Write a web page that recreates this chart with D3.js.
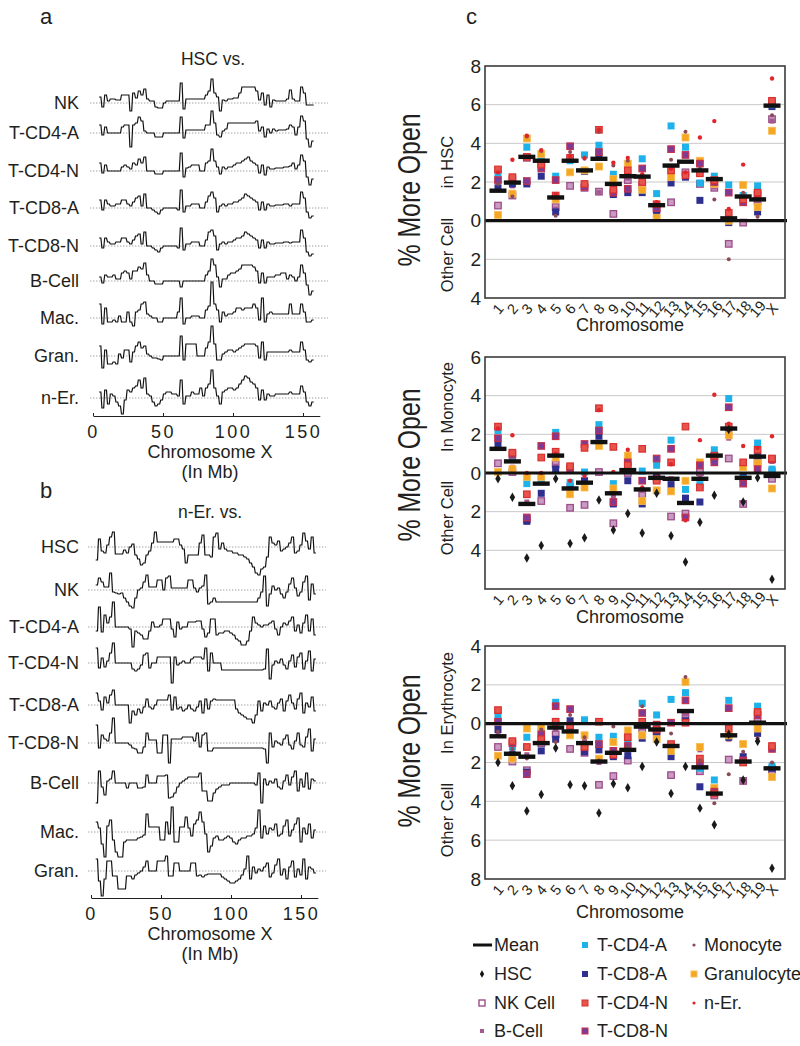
<!DOCTYPE html>
<html><head><meta charset="utf-8">
<script src="https://cdn.jsdelivr.net/npm/d3@7"></script>
<style>
body{margin:0;background:#fff}
svg{display:block}
text{font-family:"Liberation Sans",Arial,Helvetica,sans-serif;fill:#231f20}
</style>
</head><body>
<svg id="fig" width="800" height="1046"></svg>
<script>
// ---------------- DATA ----------------
// Panel a: HSC vs. other cells, step traces along chromosome X (relative openness, arbitrary units)
const rowsA = ["NK","T-CD4-A","T-CD4-N","T-CD8-A","T-CD8-N","B-Cell","Mac.","Gran.","n-Er."];
const aNK   = [6,-4,8,2,4,4,3,3,8,8,8,-8,10,5,12,8,14,4,2,2,-4,-5,-5,0,2,2,2,2,2,20,-6,4,4,4,4,4,4,4,8,12,24,10,6,-8,3,2,4,4,5,5,10,16,16,16,16,16,12,3,10,-2,8,-4,3,2,2,2,2,4,13,4,2,2,16,10,-2,-2,-2];
const aCD4A = [8,-2,6,0,0,0,0,0,6,8,8,-14,8,10,16,12,2,0,0,0,-4,-4,-4,0,0,0,0,0,0,16,-5,3,3,3,3,3,3,3,8,8,22,10,-2,-4,2,4,10,10,10,10,10,10,10,10,10,10,12,2,6,-4,4,0,4,2,3,3,3,4,8,6,-2,6,17,12,-6,-14,-8];
const aCD4N = [8,-2,6,0,0,0,0,0,4,6,4,2,8,6,12,8,14,0,0,0,-3,-3,-3,0,0,0,0,0,0,18,-6,3,4,6,6,6,0,0,8,10,22,10,4,-3,4,2,4,4,6,8,8,10,12,14,10,8,6,-2,6,-4,4,2,2,3,3,3,4,4,5,8,2,6,16,10,-6,-14,-8];
const aCD8A = [8,-2,8,4,2,2,4,4,8,8,4,2,6,10,12,2,14,0,0,-2,-4,-6,-2,0,0,0,0,0,-2,18,-4,2,2,4,4,4,0,0,6,12,16,10,-4,2,4,2,4,4,6,6,8,10,14,12,10,8,6,-2,6,-2,4,2,2,3,3,3,4,4,2,4,4,4,16,10,-4,-10,-8];
const aCD8N = [8,-2,8,4,2,2,4,4,8,8,4,2,6,10,12,2,14,0,0,-2,-4,-6,-2,0,0,0,0,0,-2,18,-4,2,2,4,4,4,0,0,6,14,16,10,-4,2,4,2,4,4,6,8,8,10,14,12,10,8,6,-2,6,-2,4,2,2,3,3,3,4,4,3,4,4,4,16,8,-6,-10,-8];
const aBCell= [4,-2,6,4,4,6,2,2,8,10,8,2,10,10,14,12,18,6,0,0,-3,-3,-3,0,0,0,0,0,0,-6,0,0,0,0,0,0,0,0,6,10,22,16,4,-6,2,2,6,8,8,10,12,16,16,16,16,14,10,-2,8,-2,4,4,4,6,6,8,8,2,6,4,0,4,16,8,-4,-14,-10];
const aMac  = [14,-6,10,-4,-4,-2,-4,2,-4,-4,6,-4,-8,6,8,14,16,4,2,0,0,-4,-4,0,0,0,0,0,6,20,-6,0,0,2,2,2,0,0,8,12,36,14,8,-4,6,2,4,4,6,10,10,8,10,10,10,14,10,-2,20,-4,4,6,4,4,4,4,4,4,14,4,4,4,14,6,-4,-4,-2];
const aGran = [10,-12,6,-8,-8,-6,-8,2,-2,6,6,-6,4,10,14,8,10,2,0,-2,-2,-3,-4,0,0,0,0,0,0,20,-4,12,12,12,12,0,0,0,8,14,30,12,-4,-4,2,4,6,6,4,6,8,10,12,12,12,12,10,-2,14,-4,4,4,4,4,4,4,4,4,6,4,4,4,14,6,-4,-6,-4];
const aNEr  = [6,-10,8,-6,4,2,-4,-8,-16,-2,8,6,10,12,18,10,20,4,2,-4,-8,-6,-2,4,6,6,4,4,2,18,-6,2,2,6,4,4,10,2,10,14,28,10,2,-6,6,8,10,10,8,10,14,18,22,20,16,14,10,-2,8,-2,4,2,2,4,4,4,4,4,6,4,4,4,12,6,-4,-8,-4];

// Panel b: n-Er. vs. other cells
const rowsB = ["HSC","NK","T-CD4-A","T-CD4-N","T-CD8-A","T-CD8-N","B-Cell","Mac.","Gran."];
const bHSC  = [-13,8,-4,-6,2,10,15,-7,-7,-7,-3,-6,0,3,-8,-12,-18,-16,-8,-4,4,15,5,5,5,5,5,5,8,8,2,-2,-16,-8,-8,-8,-8,4,12,-8,-8,-10,10,14,-2,4,-2,-4,-4,-6,-6,-8,-8,-10,-12,-16,-20,-26,-28,-22,-20,-10,10,4,2,6,-4,-2,0,4,10,-6,-4,2,14,6,-2,10,-6];
const bNK   = [5,12,8,3,3,17,-2,-3,-4,-3,-8,-12,-16,-18,-8,0,2,8,15,3,3,3,10,10,0,12,14,2,2,2,2,2,2,10,10,2,-2,2,4,15,-14,-12,-8,-12,-12,-12,-12,-12,-12,-12,-12,-12,-12,-12,-12,-12,-12,-12,-8,-2,14,-16,-4,4,0,2,-4,-8,-2,6,12,2,-6,-2,8,14,-10,6,-4];
const bCD4A = [-4,20,-5,12,4,10,25,0,0,0,0,0,-2,-20,-4,-6,-8,-12,-12,-4,5,0,0,2,8,8,8,-2,-10,5,-2,0,0,5,5,5,6,6,-2,-10,-6,8,8,-8,-6,-6,-4,-4,-6,-8,-12,-14,-18,-18,-14,-4,10,4,2,0,2,2,4,6,-2,-8,0,4,2,6,10,-4,2,-6,4,12,-4,8,-8];
const bCD4N = [15,-5,5,-4,2,10,20,0,0,0,0,0,0,-6,-8,-6,-2,8,10,-5,0,0,6,6,6,6,6,-20,6,-2,0,2,0,0,4,6,6,6,4,15,-8,10,0,0,0,-7,-7,-7,-7,-7,-7,-7,-7,-7,-7,-7,-7,-7,-7,-7,-6,14,-16,-2,2,0,4,-2,-6,2,8,-4,6,10,-6,2,12,-8,4];
const bCD8A = [12,4,-5,8,2,10,15,0,0,0,0,0,-18,-6,-10,-4,-8,-2,6,-2,-4,0,5,5,5,5,10,-5,8,-4,-2,-6,-4,0,-4,-6,-2,4,-8,6,-4,4,6,5,5,5,5,5,5,5,-4,-8,-10,-12,-14,-14,-18,-10,4,-6,2,0,4,-2,-4,2,6,-6,4,10,2,-4,6,12,-8,2,-2,8,-6];
const bCD8N = [18,-5,8,4,2,10,25,0,0,0,0,0,-2,-5,-6,-10,-10,-4,10,3,3,3,-10,-10,8,8,-20,4,4,4,4,6,6,6,6,2,10,-4,8,10,-8,-8,-5,-5,-5,-5,-5,-5,-5,-5,-5,-5,-5,-5,-5,-5,-5,-5,-5,-5,-6,-20,10,-4,2,0,-2,4,8,-2,-6,2,10,-2,-4,6,14,-8,4];
const bBCell= [-20,12,-4,-12,2,4,12,0,0,0,0,-5,0,0,0,-5,-5,-4,8,0,0,0,7,7,7,8,-15,-14,-10,-4,0,2,4,6,6,6,6,10,-8,-8,-18,-18,-10,-6,-4,-2,-2,-2,0,0,0,0,0,0,0,0,0,-2,10,-20,4,-2,2,0,4,-4,-6,2,8,-2,6,12,-8,4,-4,10,-6,4,2];
const bMac  = [10,4,-12,-25,6,12,-8,-20,-25,-25,-10,-8,-8,-8,-8,-6,-5,-3,18,5,5,5,5,-8,-8,10,-2,25,-10,-10,5,5,15,4,-4,8,12,20,10,-2,-20,-14,-6,-4,-8,-8,-6,-4,-6,-10,-12,-8,-6,-6,-4,-4,-2,4,22,-6,6,-2,4,2,8,-4,-2,6,12,-4,2,8,14,-10,4,-2,8,-6,2];
const bGran = [12,-10,-25,-8,10,10,-5,-5,-18,-18,-18,-5,-5,-8,-4,-2,0,4,10,0,0,0,10,10,10,15,-5,-5,8,8,0,0,0,0,8,8,-5,-4,-6,-4,-3,-3,-3,-3,-3,-6,-8,-10,-12,-12,-10,-8,-4,2,15,-8,4,-2,2,0,4,8,-6,-2,6,12,-4,2,-8,4,10,-6,2,-4,12,-8,4,2,-2];

const xTicksAB = [0,50,100,150];

// Panel c: % more open per chromosome
const chroms = ["1","2","3","4","5","6","7","8","9","10","11","12","13","14","15","16","17","18","19","X"];

// c-top: HSC vs.
const hscNK    = [0.78,1.3,3.25,3.0,0.7,1.8,1.7,1.5,0.35,2.1,1.8,0.6,0.95,2.5,1.9,1.7,-1.2,-0.1,1.0,5.25];
const hscBCell = [1.65,1.8,3.3,2.8,0.6,3.2,1.8,1.45,1.5,2.2,1.9,0.55,2.5,2.4,2.5,1.75,0.2,1.0,0.9,5.15];
const hscCD4A  = [2.45,2.05,3.8,3.2,2.3,3.1,3.4,3.9,2.4,2.45,3.2,1.4,4.9,3.8,1.95,2.3,1.85,1.3,1.8,6.0];
const hscCD8A  = [1.7,1.9,1.9,2.3,0.45,3.2,2.55,3.3,1.35,1.45,1.45,0.35,1.95,2.25,1.05,2.1,-0.1,1.2,0.45,5.9];
const hscCD4N  = [2.65,2.25,3.3,2.9,1.3,3.25,1.9,4.7,1.6,2.6,2.0,0.85,2.6,2.35,2.45,2.1,0.4,1.1,1.45,6.2];
const hscCD8N  = [2.1,2.15,2.05,2.7,2.1,3.85,1.75,3.55,1.45,1.65,2.7,0.65,3.7,3.4,2.95,2.0,1.45,0.95,1.35,6.1];
const hscMono  = [1.9,1.25,4.35,3.6,0.25,3.55,3.2,4.6,2.85,3.1,2.3,0.9,3.15,4.6,2.7,1.1,-2.0,1.45,0.2,5.45];
const hscGran  = [0.3,1.4,4.25,3.45,1.1,2.5,2.6,2.8,2.15,2.95,1.6,0.15,2.25,4.3,3.1,1.9,0.0,1.85,0.7,4.65];
const hscNEr   = [2.5,3.15,4.4,3.65,1.35,3.3,3.25,4.7,3.0,3.25,2.4,0.95,2.7,2.5,4.3,5.15,0.6,2.9,1.2,7.35];
const hscMean  = [1.55,1.97,3.3,3.1,1.2,3.1,2.6,3.2,1.9,2.3,2.28,0.8,2.85,3.05,2.6,2.15,0.12,1.25,1.1,5.95];

// c-middle: Monocyte vs.
const monHSC   = [-0.3,-1.25,-4.4,-3.75,-0.3,-3.65,-3.35,-1.4,-2.95,-2.1,-3.1,-1.05,-3.25,-4.6,-2.55,-1.15,2.25,-1.5,-0.25,-5.5];
const monNK    = [0.5,0.05,-2.4,-1.45,0.45,-1.8,-1.65,0.05,-2.6,0.0,-1.1,-0.3,-2.25,-2.1,0.05,0.85,0.75,-1.6,0.6,-0.3];
const monBCell = [1.3,0.3,-1.5,-0.5,0.35,-0.9,-0.6,1.5,-1.2,0.1,-0.9,-0.15,-0.3,-1.5,-0.2,0.9,1.8,-0.1,0.7,0.6];
const monCD4A  = [2.2,0.85,-0.55,-0.35,2.1,-0.5,0.05,2.5,-0.55,0.3,0.1,0.4,1.7,-0.85,-0.6,1.2,3.85,-0.3,1.55,0.2];
const monCD8A  = [1.45,0.75,-2.5,-1.05,0.2,-0.7,-0.4,1.9,-1.6,-0.4,-1.6,-0.2,-0.6,-1.3,-1.5,0.7,2.2,-0.2,0.9,0.1];
const monCD4N  = [2.4,1.05,-1.1,0.8,1.1,0.35,1.3,3.35,1.35,0.4,1.25,-0.4,0.55,2.4,-0.75,0.9,2.4,0.55,1.2,0.75];
const monCD8N  = [1.8,0.95,-2.3,1.4,1.9,0.25,1.5,2.2,-1.5,0.55,-0.4,0.75,1.25,-2.3,0.4,0.55,3.4,-0.55,0.2,0.7];
const monGran  = [0.05,0.2,-0.2,-0.2,0.8,-1.1,-0.75,1.4,-0.8,0.9,-1.45,-0.9,-0.95,-0.4,0.55,0.75,1.95,0.3,0.5,-0.8];
const monNEr   = [2.3,1.95,0.0,0.0,1.0,-0.4,-0.15,3.25,0.05,1.2,-0.75,-0.2,0.45,-2.45,1.7,4.05,2.55,1.4,1.3,1.9];
const monMean  = [1.25,0.6,-1.6,-0.55,0.9,-0.8,-0.5,1.6,-1.05,0.15,-0.85,-0.25,-0.3,-1.55,-0.3,0.9,2.3,-0.25,0.85,-0.15];

// c-bottom: Erythrocyte vs.
const eryHSC   = [-2.0,-3.2,-4.5,-3.65,-1.25,-3.15,-3.2,-4.6,-3.1,-3.3,-2.2,-0.95,-3.6,-2.2,-4.35,-5.2,-0.55,-2.9,-0.9,-7.45];
const eryNK    = [-1.2,-1.95,-2.4,-1.0,-0.55,-1.3,-1.5,-3.15,-2.7,-1.9,-0.3,-0.4,-2.65,0.35,-2.45,-3.7,-1.85,-2.95,0.1,-2.4];
const eryBCell = [-0.5,-1.4,-1.6,-0.9,-0.3,-0.4,-0.8,-2.0,-1.5,-1.4,-0.2,-0.2,-1.2,0.5,-1.35,-3.6,-0.8,-3.0,0.0,-2.1];
const eryCD4A  = [0.45,-1.2,-0.7,-0.45,1.1,-0.3,0.2,-0.7,-0.65,-1.0,1.05,0.45,1.25,1.6,-2.3,-2.9,1.2,-2.0,0.9,-2.2];
const eryCD8A  = [-0.3,-1.6,-2.5,-1.4,-0.8,0.15,-1.45,-1.35,-1.7,-1.65,-0.75,-0.6,-1.7,0.15,-3.25,-3.55,-0.7,-1.7,-0.5,-2.3];
const eryCD4N  = [0.7,-0.9,-1.2,-0.8,0.1,-0.1,-1.2,0.1,-1.6,-0.7,0.1,-0.3,-1.05,0.05,-1.8,-3.6,-0.25,-2.0,0.6,-1.15];
const eryCD8N  = [0.1,-1.0,-2.6,-0.55,0.9,0.75,-1.1,-1.05,-1.4,-1.15,0.55,-0.05,0.05,1.2,-2.05,-3.5,0.8,-1.9,0.45,-1.3];
const eryMono  = [-0.4,-1.3,-1.8,-0.3,-0.95,0.45,-0.7,-1.9,-0.15,-1.2,0.9,0.0,-0.5,2.4,-1.9,-4.1,-2.6,-1.45,-0.75,-2.0];
const eryGran  = [-1.65,-1.8,-0.25,-0.15,-0.05,-0.6,-0.6,-1.8,-0.95,-0.35,-0.6,-0.8,-1.4,2.15,-1.2,-3.3,-0.6,-1.05,-0.25,-2.75];
const eryMean  = [-0.65,-1.55,-1.7,-1.0,-0.2,-0.4,-1.0,-1.95,-1.5,-1.35,-0.15,-0.3,-1.15,0.65,-2.25,-3.6,-0.6,-1.95,0.05,-2.3];

const ticksTop = [8,6,4,2,0,-2,-4];
const ticksMid = [6,4,2,0,-2,-4];
const ticksBot = [4,2,0,-2,-4,-6,-8];

const legendItems = [
  ["mean","Mean"],["hsc","HSC"],["nk","NK Cell"],["bcell","B-Cell"],
  ["cd4a","T-CD4-A"],["cd8a","T-CD8-A"],["cd4n","T-CD4-N"],["cd8n","T-CD8-N"],
  ["mono","Monocyte"],["gran","Granulocyte"],["ner","n-Er."]
];

// ---------------- STYLES ----------------
const sty = {
  hsc:  {shape:"diamond", fill:"#1a1a1a"},
  nk:   {shape:"sq", s:6.5, fill:"#c99ac2", stroke:"#9c4f8a", sw:1.3},
  bcell:{shape:"sq", s:5, fill:"#a45a8e"},
  cd4a: {shape:"sq", s:7, fill:"#1db2ea"},
  cd8a: {shape:"sq", s:7, fill:"#2f2f8f"},
  cd4n: {shape:"sq", s:6.5, fill:"#e6544c", stroke:"#d9302f", sw:1.2},
  cd8n: {shape:"sq", s:6.5, fill:"#7c3b97", stroke:"#c7304a", sw:1.2},
  mono: {shape:"dot", r:2, fill:"#8c4a55"},
  gran: {shape:"sq", s:7, fill:"#f5a623", stroke:"#f7be55", sw:0.8},
  ner:  {shape:"dot", r:2.2, fill:"#e1262b"}
};

const svg = d3.select("#fig");
const INK = "#231f20";

function drawSym(g, key, cx, cy) {
  const st = sty[key];
  if (st.shape === "sq") {
    g.append("rect").attr("x", cx - st.s/2).attr("y", cy - st.s/2)
      .attr("width", st.s).attr("height", st.s).attr("fill", st.fill)
      .attr("stroke", st.stroke || "none").attr("stroke-width", st.sw || 0);
  } else if (st.shape === "dot") {
    g.append("circle").attr("cx", cx).attr("cy", cy).attr("r", st.r).attr("fill", st.fill);
  } else {
    g.append("path").attr("d", d3.symbol(d3.symbolDiamond, 26)())
      .attr("transform", `translate(${cx},${cy})`).attr("fill", st.fill);
  }
}

// ---------------- PANELS a & b ----------------
function tracePanel(cfg) {
  const g = svg.append("g");
  const x = d3.scaleLinear().domain([0, 162]).range([cfg.x0, cfg.x0 + 162 * 1.4]);
  cfg.rows.forEach((name, i) => {
    const base = cfg.bases[i];
    g.append("line").attr("x1", cfg.dot0).attr("x2", cfg.dot1).attr("y1", base).attr("y2", base)
      .attr("stroke", "#8a8a8a").attr("stroke-width", 0.8).attr("stroke-dasharray", "1.4,1.6");
    g.append("text").attr("x", 79).attr("y", base).attr("dy", "0.36em")
      .attr("text-anchor", "end").attr("font-size", 18).text(name);
    const vals = cfg.traces[i];
    const idx = d3.scaleLinear().domain([0, vals.length - 1]).range(cfg.mbRange);
    const yv = d3.scaleLinear().domain([0, 10]).range([base, base - 10]);
    // each bin drawn as a short plateau, joined by steep edges (step-like trace)
    const half = (cfg.mbRange[1] - cfg.mbRange[0]) / (vals.length - 1) * 0.32;
    const pts = [];
    vals.forEach((v, j) => { pts.push([idx(j) - half, v]); pts.push([idx(j) + half, v]); });
    const line = d3.line().x(d => x(d[0])).y(d => yv(d[1])).curve(d3.curveLinear);
    g.append("path").attr("d", line(pts)).attr("fill", "none")
      .attr("stroke", "#111").attr("stroke-width", 1.2).attr("stroke-linejoin", "miter");
  });
  const ax = g.append("g").attr("transform", `translate(0,${cfg.axisY})`)
    .call(d3.axisBottom(x).tickValues(xTicksAB).tickSizeInner(-3).tickSizeOuter(0).tickPadding(9));
  ax.attr("font-family", null).attr("font-size", null);
  ax.select(".domain").attr("stroke", INK).attr("stroke-width", 1.2);
  ax.selectAll(".tick line").attr("stroke", INK);
  ax.selectAll("text").attr("font-size", 18).attr("letter-spacing", "2.5px").attr("fill", INK);
  g.append("text").attr("x", 210).attr("y", cfg.axisY + 42).attr("text-anchor", "middle")
    .attr("font-size", 18).text("Chromosome X");
  g.append("text").attr("x", 210).attr("y", cfg.axisY + 62).attr("text-anchor", "middle")
    .attr("font-size", 18).text("(In Mb)");
  g.append("text").attr("x", cfg.titleX).attr("y", cfg.titleY).attr("text-anchor", "middle")
    .attr("font-size", 17.5).text(cfg.title);
  g.append("text").attr("x", 40).attr("y", cfg.letterY).attr("font-size", 22).text(cfg.letter);
}

tracePanel({
  letter: "a", letterY: 24, title: "HSC vs.", titleX: 213, titleY: 65,
  rows: rowsA, bases: [103,133,171,208,246,281,318,356,398],
  traces: [aNK,aCD4A,aCD4N,aCD8A,aCD8N,aBCell,aMac,aGran,aNEr],
  x0: 93, mbRange: [5, 157], dot0: 90, dot1: 328, axisY: 416
});
tracePanel({
  letter: "b", letterY: 498, title: "n-Er. vs.", titleX: 210, titleY: 518,
  rows: rowsB, bases: [547,590,627,663,705,743,783,832,871],
  traces: [bHSC,bNK,bCD4A,bCD4N,bCD8A,bCD8N,bBCell,bMac,bGran],
  x0: 91, mbRange: [4, 160], dot0: 88, dot1: 326, axisY: 898
});

// ---------------- PANEL c ----------------
svg.append("text").attr("x", 466).attr("y", 24).attr("font-size", 22).text("c");

const xC = d3.scalePoint().domain(chroms).range([485, 785]).padding(0.9);

function scatterPanel(cfg) {
  const g = svg.append("g");
  const y = d3.scaleLinear().domain(cfg.domain).range([cfg.bottom, cfg.top]);
  g.selectAll(".grid").data(cfg.ticks.filter(t => t !== 0 && t !== cfg.domain[0] && t !== cfg.domain[1]))
    .join("line").attr("x1", 485).attr("x2", 785).attr("y1", d => y(d)).attr("y2", d => y(d))
    .attr("stroke", "#c9c9c9").attr("stroke-width", 1);
  const ay = g.append("g").attr("transform", "translate(484,0)")
    .call(d3.axisLeft(y).tickValues(cfg.ticks).tickFormat(d => Math.abs(d)).tickSize(0).tickPadding(3));
  ay.attr("font-family", null).attr("font-size", null);
  ay.select(".domain").remove();
  ay.selectAll("text").attr("font-size", 19).attr("fill", INK);
  cfg.series.forEach(([key, vals]) => {
    vals.forEach((v, i) => drawSym(g, key, xC(chroms[i]), y(v)));
  });
  g.selectAll(".mean").data(cfg.mean).join("rect")
    .attr("x", (d, i) => xC(chroms[i]) - 8.5).attr("y", d => y(d) - 2.2)
    .attr("width", 17).attr("height", 4.4).attr("fill", "#111");
  g.append("line").attr("x1", 485).attr("x2", 787).attr("y1", y(0)).attr("y2", y(0))
    .attr("stroke", "#111").attr("stroke-width", 3.2);
  g.append("rect").attr("x", 485).attr("y", cfg.top).attr("width", 300).attr("height", cfg.bottom - cfg.top)
    .attr("fill", "none").attr("stroke", "#3b3b3b").attr("stroke-width", 1.6);
  chroms.forEach(c => {
    g.append("text").attr("transform", `translate(${xC(c)},${cfg.bottom + 11}) rotate(-50)`)
      .attr("text-anchor", "middle").attr("dy", "0.35em").attr("font-size", 14.5).text(c);
  });
  g.append("text").attr("x", 630).attr("y", cfg.chromY).attr("text-anchor", "middle")
    .attr("font-size", 18).text("Chromosome");
  g.append("text").attr("transform", `translate(420,${cfg.titleY}) rotate(-90)`)
    .attr("text-anchor", "middle").attr("font-size", 32)
    .attr("textLength", 153).attr("lengthAdjust", "spacingAndGlyphs").text("% More Open");
  g.append("text").attr("transform", `translate(453,${cfg.upY}) rotate(-90)`)
    .attr("text-anchor", "middle").attr("font-size", 16.5).text(cfg.upLabel);
  g.append("text").attr("transform", `translate(453,${cfg.downY}) rotate(-90)`)
    .attr("text-anchor", "middle").attr("font-size", 16.5).text("Other Cell");
}

scatterPanel({
  top: 66, bottom: 298, domain: [-4, 8], ticks: ticksTop, mean: hscMean,
  series: [["nk",hscNK],["bcell",hscBCell],["cd8a",hscCD8A],["cd4a",hscCD4A],["gran",hscGran],
           ["cd8n",hscCD8N],["cd4n",hscCD4N],["mono",hscMono],["ner",hscNEr]],
  chromY: 331, titleY: 190, upLabel: "in HSC", upY: 162, downY: 255
});
scatterPanel({
  top: 357, bottom: 589, domain: [-6, 6], ticks: ticksMid, mean: monMean,
  series: [["nk",monNK],["bcell",monBCell],["cd8a",monCD8A],["cd4a",monCD4A],["gran",monGran],
           ["cd8n",monCD8N],["cd4n",monCD4N],["ner",monNEr],["hsc",monHSC]],
  chromY: 623, titleY: 465, upLabel: "In Monocyte", upY: 407, downY: 518
});
scatterPanel({
  top: 646, bottom: 879, domain: [-8, 4], ticks: ticksBot, mean: eryMean,
  series: [["nk",eryNK],["bcell",eryBCell],["cd8a",eryCD8A],["cd4a",eryCD4A],["gran",eryGran],
           ["cd8n",eryCD8N],["cd4n",eryCD4N],["mono",eryMono],["hsc",eryHSC]],
  chromY: 918, titleY: 751, upLabel: "In Erythrocyte", upY: 703, downY: 820
});

// ---------------- LEGEND ----------------
const lg = svg.append("g");
const colX = [482, 585, 694], txtX = [494, 597, 704], rowY = [945, 974, 1003, 1031];
const colOf = [0,0,0,0,1,1,1,1,2,2,2], rowOf = [0,1,2,3,0,1,2,3,0,1,2];
legendItems.forEach(([key, label], i) => {
  const cx = colX[colOf[i]], cy = rowY[rowOf[i]];
  if (key === "mean") {
    lg.append("line").attr("x1", 473).attr("x2", 492).attr("y1", cy).attr("y2", cy)
      .attr("stroke", "#111").attr("stroke-width", 3);
  } else if (key === "nk") {
    lg.append("rect").attr("x", cx - 3).attr("y", cy - 3).attr("width", 6).attr("height", 6)
      .attr("fill", "#fff").attr("stroke", "#9c4f8a").attr("stroke-width", 1.4);
  } else if (key === "mono" || key === "ner") {
    lg.append("circle").attr("cx", cx).attr("cy", cy).attr("r", 1.6).attr("fill", sty[key].fill);
  } else if (key === "bcell") {
    lg.append("rect").attr("x", cx - 2).attr("y", cy - 2).attr("width", 4).attr("height", 4).attr("fill", sty.bcell.fill);
  } else if (key === "hsc") {
    lg.append("path").attr("d", d3.symbol(d3.symbolDiamond, 16)()).attr("transform", `translate(${cx},${cy})`).attr("fill", "#111");
  } else {
    const st = sty[key];
    lg.append("rect").attr("x", cx - 3).attr("y", cy - 3).attr("width", 6).attr("height", 6)
      .attr("fill", st.fill).attr("stroke", st.stroke || "none").attr("stroke-width", st.sw ? 1 : 0);
  }
  lg.append("text").attr("x", txtX[colOf[i]]).attr("y", cy).attr("dy", "0.36em")
    .attr("font-size", 18).text(label);
});
</script>
</body></html>
